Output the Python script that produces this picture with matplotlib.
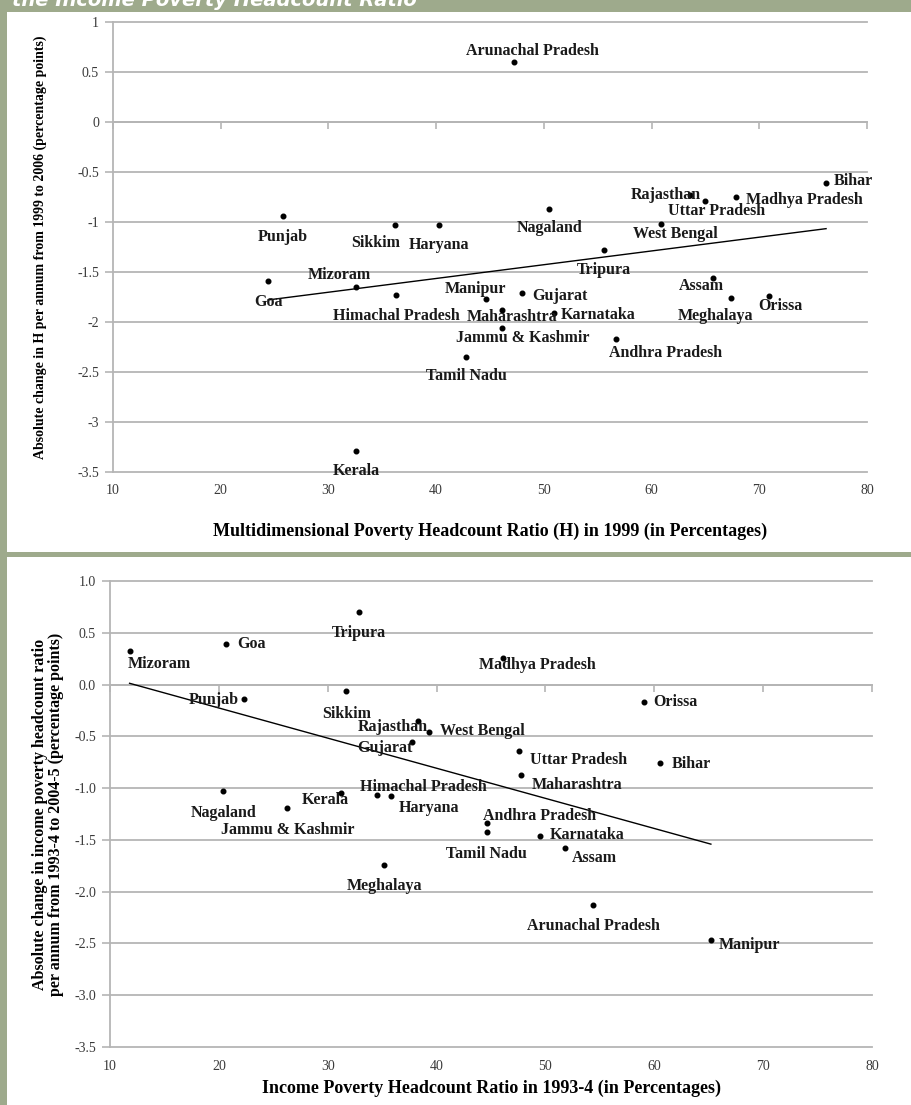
import matplotlib.pyplot as plt
import numpy as np
from matplotlib.patches import Rectangle
from matplotlib.ticker import FuncFormatter, MultipleLocator

plt.rcParams["axes.unicode_minus"] = False
plt.rcParams["font.family"] = ["Liberation Serif", "DejaVu Serif"]

# Panel 1: multidimensional poverty (H) in 1999 vs change per annum 1999-2006
states_top = ["Arunachal Pradesh", "Bihar", "Madhya Pradesh", "Rajasthan", "Uttar Pradesh",
              "Nagaland", "Punjab", "Sikkim", "Haryana", "West Bengal", "Tripura", "Goa",
              "Mizoram", "Assam", "Himachal Pradesh", "Manipur", "Gujarat", "Orissa",
              "Meghalaya", "Maharashtra", "Karnataka", "Jammu & Kashmir", "Andhra Pradesh",
              "Tamil Nadu", "Kerala"]
h_1999 = [47.2, 76.2, 67.8, 63.6, 65.0, 50.5, 25.8, 36.2, 40.3, 60.9, 55.6, 24.4,
          32.6, 65.7, 36.3, 44.6, 48.0, 70.9, 67.4, 46.1, 50.9, 46.1, 56.7, 42.8, 32.6]
h_change = [0.60, -0.61, -0.75, -0.73, -0.79, -0.87, -0.94, -1.03, -1.03, -1.02, -1.28, -1.59,
            -1.65, -1.56, -1.73, -1.77, -1.71, -1.74, -1.76, -1.88, -1.91, -2.06, -2.17,
            -2.35, -3.29]

# Panel 2: income poverty headcount 1993-4 vs change per annum 1993-4 to 2004-5
states_bot = ["Tripura", "Goa", "Mizoram", "Madhya Pradesh", "Sikkim", "Punjab", "Orissa",
              "Rajasthan", "West Bengal", "Gujarat", "Uttar Pradesh", "Bihar", "Maharashtra",
              "Nagaland", "Kerala", "Himachal Pradesh", "Haryana", "Jammu & Kashmir",
              "Andhra Pradesh", "Tamil Nadu", "Karnataka", "Assam", "Meghalaya",
              "Arunachal Pradesh", "Manipur"]
inc_1993 = [32.9, 20.7, 11.8, 46.1, 31.7, 22.3, 59.1, 38.3, 39.3, 37.7, 47.6, 60.5, 47.8,
            20.4, 31.2, 34.5, 35.8, 26.3, 44.6, 44.6, 49.5, 51.8, 35.2, 54.4, 65.2]
inc_change = [0.70, 0.39, 0.32, 0.26, -0.06, -0.14, -0.17, -0.35, -0.46, -0.55, -0.64, -0.76,
              -0.87, -1.03, -1.05, -1.07, -1.08, -1.19, -1.34, -1.42, -1.46, -1.58, -1.74,
              -2.13, -2.47]

x_ticks = [10, 20, 30, 40, 50, 60, 70, 80]

# label offsets in pixels (text centre relative to the dot)
offsets_top = {
    "Arunachal Pradesh": (19, 11), "Bihar": (27, 2), "Madhya Pradesh": (69, -3),
    "Rajasthan": (-25, 0), "Uttar Pradesh": (11, -10), "Nagaland": (0, -19),
    "Punjab": (0, -21), "Sikkim": (-20, -18), "Haryana": (0, -20), "West Bengal": (14, -10),
    "Tripura": (0, -20), "Goa": (0, -21), "Mizoram": (-17, 12), "Assam": (-12, -8),
    "Himachal Pradesh": (0, -21), "Manipur": (-10, 10), "Gujarat": (38, -3),
    "Orissa": (11, -10), "Meghalaya": (-16, -18), "Maharashtra": (10, -7),
    "Karnataka": (45, -2), "Jammu & Kashmir": (21, -10), "Andhra Pradesh": (50, -14),
    "Tamil Nadu": (0, -19), "Kerala": (0, -20),
}
offsets_bot = {
    "Tripura": (0, -21), "Goa": (25, 0), "Mizoram": (30, -13), "Madhya Pradesh": (34, -7),
    "Sikkim": (0, -23), "Punjab": (-30, -1), "Orissa": (31, 0), "Rajasthan": (-25, -6),
    "West Bengal": (53, 1), "Gujarat": (-27, -6), "Uttar Pradesh": (59, -9),
    "Bihar": (32, -1), "Maharashtra": (56, -10), "Nagaland": (0, -22), "Kerala": (-15, -7),
    "Himachal Pradesh": (47, 8), "Haryana": (38, -12), "Jammu & Kashmir": (0, -22),
    "Andhra Pradesh": (53, 7), "Tamil Nadu": (0, -22), "Karnataka": (47, 1),
    "Assam": (29, -10), "Meghalaya": (0, -21), "Arunachal Pradesh": (0, -21),
    "Manipur": (39, -5),
}

GREEN = "#9eaa8c"
GRID = "#b5b5b5"
TICK_COLOR = "#3a3a3a"


def draw_panel(ax, x, y, names, offsets, fmt, xlabel, ylabel, ylabel_x,
               ylabel_size, xlabel_pad):
    ax.set_xlim(10, 80)
    ax.set_ylim(-3.5, 1)
    ax.yaxis.set_major_locator(MultipleLocator(0.5))
    ax.set_xticks(x_ticks)
    ax.yaxis.set_major_formatter(FuncFormatter(fmt))
    ax.grid(axis="y", color=GRID, linewidth=1.3, clip_on=False)
    ax.set_axisbelow(True)
    for s in ["top", "right"]:
        ax.spines[s].set_visible(False)
    ax.spines["left"].set_color(GRID)
    ax.spines["left"].set_linewidth(1.3)
    # horizontal axis crosses at zero, labels stay at the bottom
    ax.spines["bottom"].set_position(("data", 0))
    ax.spines["bottom"].set_color(GRID)
    ax.spines["bottom"].set_linewidth(1.3)
    ax.tick_params(axis="x", direction="out", length=5, color=GRID, width=1.2,
                   labelbottom=False)
    ax.tick_params(axis="y", direction="out", length=6, color=GRID, width=1.2,
                   labelsize=10, labelcolor=TICK_COLOR, pad=4)
    sec = ax.secondary_xaxis("bottom")
    sec.set_xticks(x_ticks)
    sec.spines["bottom"].set_visible(False)
    sec.tick_params(length=0, labelsize=10, labelcolor=TICK_COLOR, pad=9)
    sec.set_xlabel(xlabel, fontsize=13, fontweight="bold", labelpad=xlabel_pad)

    ax.scatter(x, y, s=11, color="black", zorder=3)
    slope, icpt = np.polyfit(x, y, 1)
    xs = np.array([min(x), max(x)])
    ax.plot(xs, slope * xs + icpt, color="black", linewidth=1, zorder=3)

    for name, xi, yi in zip(names, x, y):
        dx, dy = offsets[name]
        ax.annotate(name, (xi, yi), xytext=(dx, dy), textcoords="offset pixels",
                    ha="center", va="center", fontsize=11.5, fontweight="bold",
                    color="#1a1a1a", zorder=4)

    ax.set_ylabel(ylabel, fontsize=ylabel_size, fontweight="bold", linespacing=1.0)
    ax.yaxis.set_label_coords(ylabel_x, 0.5)


fig = plt.figure(figsize=(9.11, 11.05), dpi=100)

ax1 = fig.add_axes([113 / 911, 1 - 472 / 1105, 754 / 911, 450 / 1105])
draw_panel(ax1, h_1999, h_change, states_top, offsets_top,
           lambda v, p: f"{v:g}",
           "Multidimensional Poverty Headcount Ratio (H) in 1999 (in Percentages)",
           "Absolute change in H per annum from 1999 to 2006 (percentage points)",
           -0.088, 10, 18)

ax2 = fig.add_axes([110 / 911, 1 - 1047 / 1105, 762 / 911, 466 / 1105])
draw_panel(ax2, inc_1993, inc_change, states_bot, offsets_bot,
           lambda v, p: f"{v:.1f}",
           "Income Poverty Headcount Ratio in 1993-4 (in Percentages)",
           "Absolute change in income poverty headcount ratio\n"
           "per annum from 1993-4 to 2004-5 (percentage points)",
           -0.06, 11.5, 5)

# green frame pieces: header band, left rule, separator between panels
fig.patches.append(Rectangle((0, 1 - 12 / 1105), 1, 12 / 1105, transform=fig.transFigure,
                             facecolor=GREEN, edgecolor="none", zorder=0))
fig.patches.append(Rectangle((0, 0), 7 / 911, 1, transform=fig.transFigure,
                             facecolor=GREEN, edgecolor="none", zorder=0))
fig.patches.append(Rectangle((0, 1 - 557 / 1105), 1, 5 / 1105, transform=fig.transFigure,
                             facecolor=GREEN, edgecolor="none", zorder=0))
fig.text(12 / 911, 1 - 6 / 1105, "the Income Poverty Headcount Ratio", color="white",
         fontsize=14, fontweight="bold", fontstyle="italic", family="DejaVu Sans",
         va="baseline", ha="left")

fig.savefig("out.png", dpi=100)
